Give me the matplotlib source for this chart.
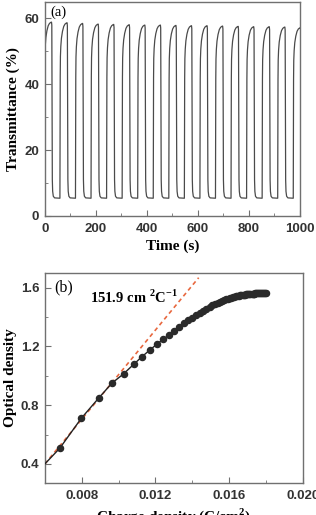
import numpy as np
import matplotlib.pyplot as plt

plt.rcParams['font.family'] = 'Liberation Sans'
plt.rcParams['mathtext.fontset'] = 'custom'
plt.rcParams['mathtext.rm'] = 'Liberation Serif'
plt.rcParams['mathtext.bf'] = 'Liberation Serif:bold'

# ---- panel (a): transmittance cycling ----
# start of each bleaching step (s) and peak transmittance of each cycle (%)
cycle_start = [-2, 59, 120, 181, 242, 303, 364, 425, 486, 547, 608, 669, 730, 791, 852, 913, 974]
cycle_peak = [58.9, 58.7, 58.5, 58.3, 58.2, 58.1, 58.0, 58.0, 57.9, 57.8, 57.8, 57.7, 57.6, 57.5, 57.5, 57.4, 57.2]
# shape of one cycle, read from the first period (offset s, transmittance %)
shape_t = [0, 0.6, 1.2, 2.0, 3.5, 6, 10, 15, 20, 25, 28, 29.2, 29.8, 30.4, 31.2, 32.5, 35, 40, 61]
shape_T = [5.4, 25, 42, 48, 51, 53.5, 55.5, 57, 57.7, 58.0, 58.1, 57.2, 40, 20, 11, 7.5, 6.0, 5.5, 5.4]
T_low = 5.4

# ---- panel (b): optical density vs charge density ----
q = [0.00681, 0.00798, 0.00892, 0.00964, 0.01027, 0.01083, 0.01128, 0.01171, 0.01209, 0.01243,
     0.01276, 0.01303, 0.01330, 0.01354, 0.01377, 0.01399, 0.01420, 0.01440, 0.01459, 0.01477,
     0.01494, 0.01510, 0.01525, 0.01539, 0.01552, 0.01564, 0.01575, 0.01585, 0.01595, 0.01604,
     0.01613, 0.01621, 0.01629, 0.01637, 0.01645, 0.01652, 0.01659, 0.01666, 0.01673, 0.01680,
     0.01686, 0.01692, 0.01698, 0.01704, 0.01710, 0.01716, 0.01722, 0.01728, 0.01733, 0.01738,
     0.01743, 0.01748, 0.01753, 0.01758, 0.01763, 0.01768, 0.01773, 0.01778, 0.01783, 0.01788,
     0.01793, 0.01798]
od = [0.507, 0.711, 0.848, 0.950, 1.013, 1.079, 1.131, 1.177, 1.216, 1.250,
      1.279, 1.306, 1.331, 1.357, 1.378, 1.396, 1.413, 1.429, 1.443, 1.457,
      1.469, 1.479, 1.488, 1.496, 1.504, 1.510, 1.515, 1.520, 1.525, 1.528,
      1.532, 1.535, 1.537, 1.540, 1.542, 1.545, 1.547, 1.549, 1.550, 1.552,
      1.553, 1.554, 1.555, 1.556, 1.557, 1.558, 1.559, 1.559, 1.560, 1.560,
      1.561, 1.561, 1.562, 1.562, 1.562, 1.563, 1.563, 1.563, 1.564, 1.564,
      1.564, 1.564]
q_start, od_start = 0.0060, 0.400
fit_q = [0.0060, 0.01435]
fit_od = [0.400, 1.668]

# build the transmittance trace from the cycle shape
shape_t = np.array(shape_t)
shape_T = np.array(shape_T)
tt, TT = [], []
for t0, pk in zip(cycle_start, cycle_peak):
    scaled = T_low + (shape_T - T_low) * (pk - T_low) / (58.1 - T_low)
    tt.extend(t0 + shape_t)
    TT.extend(scaled)

axis_gray = '#707070'
lab_font = dict(family='Liberation Serif', weight='bold', size=11)

fig = plt.figure(figsize=(3.16, 5.15), dpi=100)
ax1 = fig.add_axes([0.142, 0.5806, 0.807, 0.4155])
ax2 = fig.add_axes([0.142, 0.0621, 0.816, 0.4078])

ax1.plot(tt, TT, color='#4a4a4a', lw=0.9)
ax1.set_xlim(0, 1000)
ax1.set_ylim(0, 65)
ax1.set_xticks([0, 200, 400, 600, 800, 1000])
ax1.set_xticks([100, 300, 500, 700, 900], minor=True)
ax1.set_yticks([0, 20, 40, 60])
ax1.set_yticks([10, 30, 50], minor=True)
ax1.set_xlabel('Time (s)', fontdict=lab_font, labelpad=3)
ax1.set_ylabel('Transmittance (%)', fontdict=lab_font, labelpad=3)
ax1.text(0.02, 0.985, '(a)', transform=ax1.transAxes, ha='left', va='top',
         family='Liberation Serif', fontsize=10.5)

ax2.plot([q_start] + q, [od_start] + od, color='#222222', lw=1.0, zorder=3)
ax2.plot(q, od, 'o', color='#2a2a2a', ms=4.4, zorder=4)
ax2.plot(fit_q, fit_od, color='#e8683f', lw=1.2, ls=(0, (2.5, 2)), zorder=2)
ax2.set_xlim(0.006, 0.020)
ax2.set_ylim(0.27, 1.70)
ax2.set_xticks([0.008, 0.012, 0.016, 0.020])
ax2.set_xticklabels(['0.008', '0.012', '0.016', '0.020'])
ax2.set_xticks([0.010, 0.014, 0.018], minor=True)
ax2.set_yticks([0.4, 0.8, 1.2, 1.6])
ax2.set_yticks([0.6, 1.0, 1.4], minor=True)
ax2.set_xlabel('Charge density (C/cm$^\\mathbf{2}$)', fontdict=lab_font, labelpad=3)
ax2.set_ylabel('Optical density', fontdict=lab_font, labelpad=3)
ax2.text(0.035, 0.93, '(b)', transform=ax2.transAxes, ha='left', va='center',
         family='Liberation Serif', fontsize=11.5)
ax2.text(0.00847, 1.497, '151.9 cm $^\\mathbf{2}$C$^\\mathbf{-1}$', ha='left', va='baseline',
         family='Liberation Serif', weight='bold', fontsize=10.5)

for ax in (ax1, ax2):
    for s in ax.spines.values():
        s.set_color(axis_gray)
        s.set_linewidth(1.0)
    ax.tick_params(which='both', direction='in', color=axis_gray, labelsize=9.5)
    ax.tick_params(axis='x', pad=5)
    ax.tick_params(axis='y', pad=4)
    ax.tick_params(which='major', length=4)
    ax.tick_params(which='minor', length=2.5)
    for lbl in ax.get_xticklabels() + ax.get_yticklabels():
        lbl.set_fontweight('bold')
        lbl.set_color('#333333')

fig.savefig('out.png', dpi=100)
